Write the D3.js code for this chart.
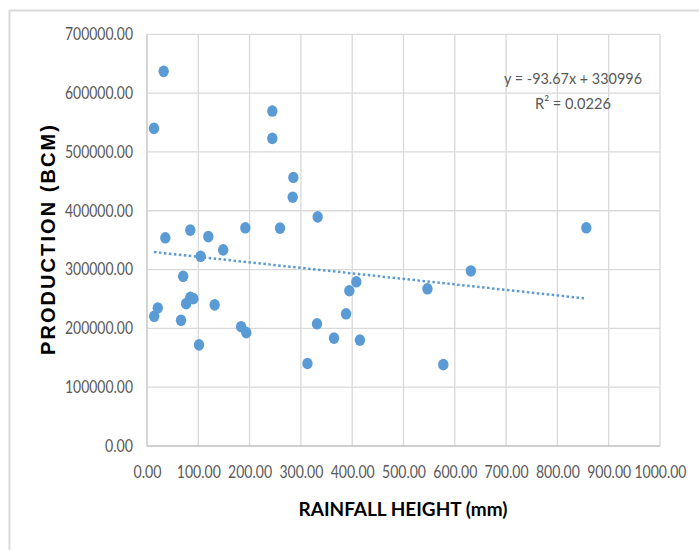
<!DOCTYPE html>
<html>
<head>
<meta charset="utf-8">
<script src="https://cdn.jsdelivr.net/npm/d3@7"></script>
<style>
  body { margin: 0; background: #fff; }
  svg { display: block; }
</style>
</head>
<body>
<script>
// data
const rainfall = [13.6, 32.5, 35.7, 84.4, 119.5, 104.6, 148.5, 191.7, 244.3, 244.3,
                  285.3, 284.0, 259.3, 332.7, 70.5, 856.4, 631.3, 14.0, 21.0, 66.3,
                  76.3, 84.5, 90.3, 101.4, 131.9, 183.5, 193.6, 312.8, 331.4, 364.5,
                  388.0, 394.4, 408.0, 415.0, 546.7, 577.6];
const production = [540000, 637000, 354000, 367000, 356000, 322500, 333500, 371000, 569500, 523000,
                    456500, 423000, 370500, 389500, 288500, 371000, 297600, 220500, 234700, 213700,
                    242000, 252800, 250500, 172000, 240000, 202800, 192700, 140300, 207800, 183400,
                    224800, 264000, 279200, 180000, 267300, 138300];

const xTicks = [0, 100, 200, 300, 400, 500, 600, 700, 800, 900, 1000];
const yTicks = [0, 100000, 200000, 300000, 400000, 500000, 600000, 700000];

// trendline from the equation shown on the chart
const trendSlope = -93.67;
const trendIntercept = 330996;
const equationLabel = "y = -93.67x + 330996";
const r2Label = "R² = 0.0226";

const xTitle = "RAINFALL HEIGHT (mm)";
const yTitle = "PRODUCTION (BCM)";

// dimensions
const W = 699, H = 550;
const margin = {top: 34.3, right: 39, bottom: 104, left: 147};
const width = W - margin.left - margin.right,
      height = H - margin.top - margin.bottom;

const font = "Lato, 'Open Sans', sans-serif";
const labelGray = "#595959";
const dotBlue = "#5b9bd5";

// squeeze labels to a narrow, Calibri-like width
const narrowLen = s => s.replace(/[^0-9]/g, "").length * 8 + (s.includes(".") ? 4 : 0);

const svg = d3.select("body").append("svg")
    .attr("width", W)
    .attr("height", H);

// outer chart frame
svg.append("rect")
    .attr("x", 9.5)
    .attr("y", 10.5)
    .attr("width", W)
    .attr("height", H)
    .attr("fill", "none")
    .attr("stroke", "#d9d9d9")
    .attr("stroke-width", 2);

const g = svg.append("g")
    .attr("transform", `translate(${margin.left},${margin.top})`);

// scales
const x = d3.scaleLinear().domain([0, 1000]).range([0, width]);
const y = d3.scaleLinear().domain([0, 700000]).range([height, 0]);

// gridlines
g.append("g")
  .selectAll("line")
  .data(xTicks)
  .join("line")
    .attr("x1", d => x(d)).attr("x2", d => x(d))
    .attr("y1", 0).attr("y2", height)
    .attr("stroke", d => d === 0 ? "#bfbfbf" : "#d9d9d9")
    .attr("stroke-width", 1.3);

g.append("g")
  .selectAll("line")
  .data(yTicks)
  .join("line")
    .attr("x1", 0).attr("x2", width)
    .attr("y1", d => y(d)).attr("y2", d => y(d))
    .attr("stroke", d => d === 0 ? "#bfbfbf" : "#d9d9d9")
    .attr("stroke-width", 1.3);

// axes
const fmt = d3.format(".2f");
const yAxis = g.append("g")
    .call(d3.axisLeft(y).tickValues(yTicks).tickFormat(fmt).tickSize(0).tickPadding(14));
yAxis.select(".domain").remove();
yAxis.selectAll("text")
    .style("font-family", font)
    .style("font-size", "16.5px")
    .attr("fill", labelGray)
    .attr("textLength", d => narrowLen(fmt(d)))
    .attr("lengthAdjust", "spacingAndGlyphs");

const xAxis = g.append("g")
    .attr("transform", `translate(0,${height})`)
    .call(d3.axisBottom(x).tickValues(xTicks).tickFormat(fmt).tickSize(0).tickPadding(20));
xAxis.select(".domain").remove();
xAxis.selectAll("text")
    .style("font-family", font)
    .style("font-size", "16.5px")
    .attr("fill", labelGray)
    .attr("textLength", d => narrowLen(fmt(d)))
    .attr("lengthAdjust", "spacingAndGlyphs");

// axis titles
svg.append("text")
    .attr("x", 403)
    .attr("y", 516)
    .attr("text-anchor", "middle")
    .style("font-family", font)
    .style("font-weight", "bold")
    .style("font-size", "19px")
    .attr("fill", "#000")
    .attr("textLength", 209)
    .attr("lengthAdjust", "spacingAndGlyphs")
    .text(xTitle);

svg.append("text")
    .attr("transform", "translate(54.5,240) rotate(-90)")
    .attr("text-anchor", "middle")
    .style("font-family", "'Liberation Sans', Arial, sans-serif")
    .style("font-weight", "bold")
    .style("font-size", "20px")
    .attr("fill", "#000")
    .attr("textLength", 230)
    .attr("lengthAdjust", "spacing")
    .text(yTitle);

// trendline
const xExt = d3.extent(rainfall);
g.append("line")
    .attr("x1", x(xExt[0]))
    .attr("y1", y(trendSlope * xExt[0] + trendIntercept))
    .attr("x2", x(xExt[1]))
    .attr("y2", y(trendSlope * xExt[1] + trendIntercept))
    .attr("stroke", dotBlue)
    .attr("stroke-width", 2.5)
    .attr("stroke-dasharray", "2.5,2.5");

// points
g.append("g")
  .selectAll("ellipse")
  .data(rainfall.map((r, i) => ({r, p: production[i]})))
  .join("ellipse")
    .attr("cx", d => x(d.r))
    .attr("cy", d => y(d.p))
    .attr("rx", 5.2)
    .attr("ry", 5.8)
    .attr("fill", dotBlue);

// equation label
const eq = svg.append("g")
    .style("font-family", font)
    .style("font-size", "16px")
    .attr("fill", labelGray)
    .attr("text-anchor", "middle");
eq.append("text").attr("x", 573).attr("y", 83.5)
    .attr("textLength", 138).attr("lengthAdjust", "spacingAndGlyphs")
    .text(equationLabel);
eq.append("text").attr("x", 573).attr("y", 109)
    .attr("textLength", 76).attr("lengthAdjust", "spacingAndGlyphs")
    .text(r2Label);
</script>
</body>
</html>
